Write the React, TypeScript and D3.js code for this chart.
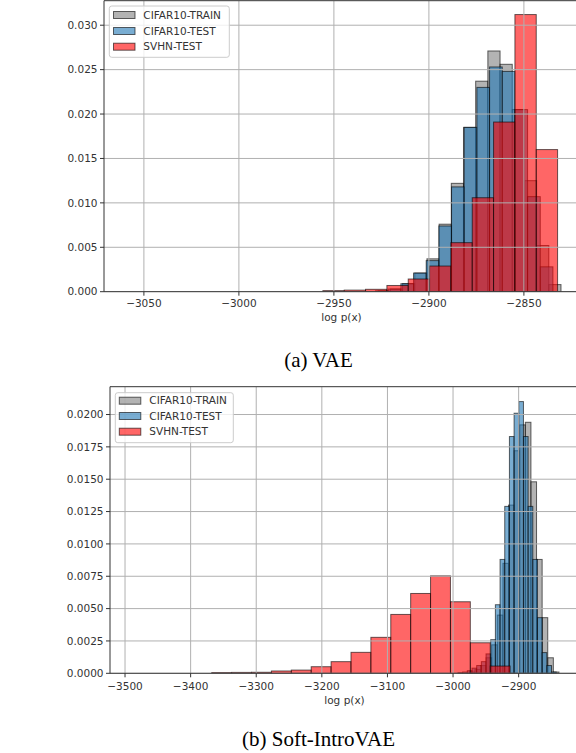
import React from 'react';
import * as d3 from 'd3';

// ---------- shared ----------
const seriesNames = ['CIFAR10-TRAIN', 'CIFAR10-TEST', 'SVHN-TEST'];
const seriesColors = ['#808080', '#1f77b4', '#ff0000'];

// ---------- (a) VAE ----------
const vaeTrainStart = -2926.7;
const vaeTrainWidth = 6.415;
const vaeTrain = [0.0001, 0.0003, 0.0009, 0.0021, 0.0037, 0.0076, 0.0122, 0.0185, 0.0237, 0.0271, 0.0256, 0.0205, 0.0125, 0.0052, 0.0008];

const vaeTestStart = -2928.1;
const vaeTestWidth = 6.67;
const vaeTest = [0.0001, 0.0003, 0.0009, 0.0021, 0.0035, 0.0074, 0.0118, 0.0185, 0.023, 0.0253, 0.0248, 0.0205, 0.0107, 0.0028];

const vaeSvhnStart = -2955.8;
const vaeSvhnWidth = 11.23;
const vaeSvhn = [0.00012, 0.00018, 0.00027, 0.0007, 0.00143, 0.00289, 0.00552, 0.01058, 0.0191, 0.0312, 0.016];

const vaeXDomain = [-3071, -2821];
const vaeYDomain = [0, 0.03276];
const vaeXTicks = [-3050, -3000, -2950, -2900, -2850];
const vaeYTicks = [0, 0.005, 0.01, 0.015, 0.02, 0.025, 0.03];

// ---------- (b) Soft-IntroVAE ----------
const sivTrainStart = -2975.2;
const sivTrainWidth = 8.54;
const sivTrain = [0.0001, 0.0003, 0.0006, 0.0012, 0.0022, 0.0045, 0.0085, 0.013, 0.0172, 0.0192, 0.0194, 0.0148, 0.0088, 0.0043, 0.0012, 0.0001];

const sivTestStart = -2992.5;
const sivTestWidth = 7.13;
const sivTest = [0.00005, 0.0001, 0.0002, 0.0004, 0.0006, 0.0009, 0.0015, 0.0026, 0.0053, 0.0088, 0.0129, 0.0183, 0.0201, 0.021, 0.0183, 0.0129, 0.0088, 0.0043, 0.0016, 0.0006, 0.0001];

const sivSvhnStart = -3367.8;
const sivSvhnWidth = 30.32;
const sivSvhn = [0.00006, 0.00007, 0.00008, 0.00018, 0.00025, 0.00051, 0.0009, 0.00162, 0.00278, 0.00455, 0.00617, 0.00753, 0.00553, 0.00236, 0.00056];

const sivXDomain = [-3522.9, -2808];
const sivYDomain = [0, 0.02215];
const sivXTicks = [-3500, -3400, -3300, -3200, -3100, -3000, -2900];
const sivYTicks = [0, 0.0025, 0.005, 0.0075, 0.01, 0.0125, 0.015, 0.0175, 0.02];

const FONT = 'DejaVu Sans';
const fmtMinus = (v: number) => String(v).replace('-', '\u2212');

type Series = { start: number; width: number; values: number[] };

function Panel(props: {
  id: string;
  left: number; right: number; top: number; bottom: number;
  xDomain: number[]; yDomain: number[];
  xTicks: number[]; yTicks: number[]; yDigits: number;
  series: Series[];
  xLabelY: number; tickLabelY: number;
  legend: { x: number; y: number; w: number; h: number; rows: number[]; patchX: number; textX: number };
  caption: string; captionY: number;
}) {
  const { left, right, top, bottom } = props;
  const xs = d3.scaleLinear().domain(props.xDomain).range([left, right]);
  const ys = d3.scaleLinear().domain(props.yDomain).range([bottom, top]);
  const lg = props.legend;
  return (
    <g>
      <defs>
        <clipPath id={props.id + '-clip'}>
          <rect x={left} y={top} width={right - left} height={bottom - top} />
        </clipPath>
      </defs>
      <g clipPath={`url(#${props.id}-clip)`}>
        {props.series.map((s, si) =>
          s.values.map((v, i) => {
            const x0 = xs(s.start + i * s.width);
            const x1 = xs(s.start + (i + 1) * s.width);
            return (
              <rect key={si + '-' + i} x={x0} y={ys(v)} width={x1 - x0} height={ys(0) - ys(v)}
                fill={seriesColors[si]} fillOpacity={0.6} stroke="#000" strokeOpacity={0.6} strokeWidth={1} />
            );
          })
        )}
        {props.xTicks.map((t) => (
          <line key={'gx' + t} x1={xs(t)} x2={xs(t)} y1={top} y2={bottom} stroke="#b0b0b0" strokeWidth={1} />
        ))}
        {props.yTicks.map((t) => (
          <line key={'gy' + t} x1={left} x2={right} y1={ys(t)} y2={ys(t)} stroke="#b0b0b0" strokeWidth={1} />
        ))}
      </g>
      {/* spines */}
      <line x1={left} x2={left} y1={top} y2={bottom} stroke="#333" strokeWidth={1} />
      <line x1={left} x2={right} y1={bottom} y2={bottom} stroke="#333" strokeWidth={1} />
      <line x1={left} x2={right} y1={top} y2={top} stroke="#333" strokeWidth={1} />
      <line x1={right} x2={right} y1={top} y2={bottom} stroke="#333" strokeWidth={1} />
      {/* ticks */}
      {props.xTicks.map((t) => (
        <g key={'tx' + t}>
          <line x1={xs(t)} x2={xs(t)} y1={bottom} y2={bottom + 4} stroke="#333" strokeWidth={1} />
          <text x={xs(t)} y={props.tickLabelY} textAnchor="middle" fontFamily={FONT} fontSize={10.5} fill="#333">
            {fmtMinus(t)}
          </text>
        </g>
      ))}
      {props.yTicks.map((t) => (
        <g key={'ty' + t}>
          <line x1={left - 4} x2={left} y1={ys(t)} y2={ys(t)} stroke="#333" strokeWidth={1} />
          <text x={left - 6.5} y={ys(t)} dy="0.35em" textAnchor="end" fontFamily={FONT} fontSize={10.5} fill="#333">
            {t.toFixed(props.yDigits)}
          </text>
        </g>
      ))}
      <text x={(left + right) / 2} y={props.xLabelY} textAnchor="middle" fontFamily={FONT} fontSize={10.5} fill="#333">
        log p(x)
      </text>
      {/* legend */}
      <rect x={lg.x} y={lg.y} width={lg.w} height={lg.h} rx={2.5} fill="#fff" fillOpacity={0.8} stroke="#cccccc" strokeWidth={1} />
      {seriesNames.map((n, i) => (
        <g key={n}>
          <rect x={lg.patchX} y={lg.rows[i] - 3.5} width={21.5} height={7} fill={seriesColors[i]} fillOpacity={0.6}
            stroke="#000" strokeOpacity={0.6} strokeWidth={1} />
          <text x={lg.textX} y={lg.rows[i]} dy="0.35em" fontFamily={FONT} fontSize={10.5} fill="#333">{n}</text>
        </g>
      ))}
      <text x={318.5} y={props.captionY} textAnchor="middle" fontFamily="Liberation Serif" fontSize={21} fill="#000">
        {props.caption}
      </text>
    </g>
  );
}

export default function App() {
  return (
    <svg width={576} height={753} style={{ position: 'absolute', left: 0, top: 0, background: '#fff' }}>
      <rect x={0} y={0} width={576} height={753} fill="#fff" />
      <Panel
        id="vae"
        left={104} right={579} top={0.7} bottom={291.7}
        xDomain={vaeXDomain} yDomain={vaeYDomain}
        xTicks={vaeXTicks} yTicks={vaeYTicks} yDigits={3}
        series={[
          { start: vaeTrainStart, width: vaeTrainWidth, values: vaeTrain },
          { start: vaeTestStart, width: vaeTestWidth, values: vaeTest },
          { start: vaeSvhnStart, width: vaeSvhnWidth, values: vaeSvhn },
        ]}
        tickLabelY={306.5} xLabelY={320.5}
        legend={{ x: 109.3, y: 6, w: 120, h: 51.3, rows: [15, 31, 46.7], patchX: 113.5, textX: 143.3 }}
        caption="(a) VAE" captionY={367}
      />
      <Panel
        id="siv"
        left={110} right={579} top={386.7} bottom={673.3}
        xDomain={sivXDomain} yDomain={sivYDomain}
        xTicks={sivXTicks} yTicks={sivYTicks} yDigits={4}
        series={[
          { start: sivTrainStart, width: sivTrainWidth, values: sivTrain },
          { start: sivTestStart, width: sivTestWidth, values: sivTest },
          { start: sivSvhnStart, width: sivSvhnWidth, values: sivSvhn },
        ]}
        tickLabelY={689.5} xLabelY={703.5}
        legend={{ x: 115.3, y: 392.7, w: 118, h: 50, rows: [400.7, 416, 431.7], patchX: 119.3, textX: 149.3 }}
        caption="(b) Soft-IntroVAE" captionY={746}
      />
    </svg>
  );
}
